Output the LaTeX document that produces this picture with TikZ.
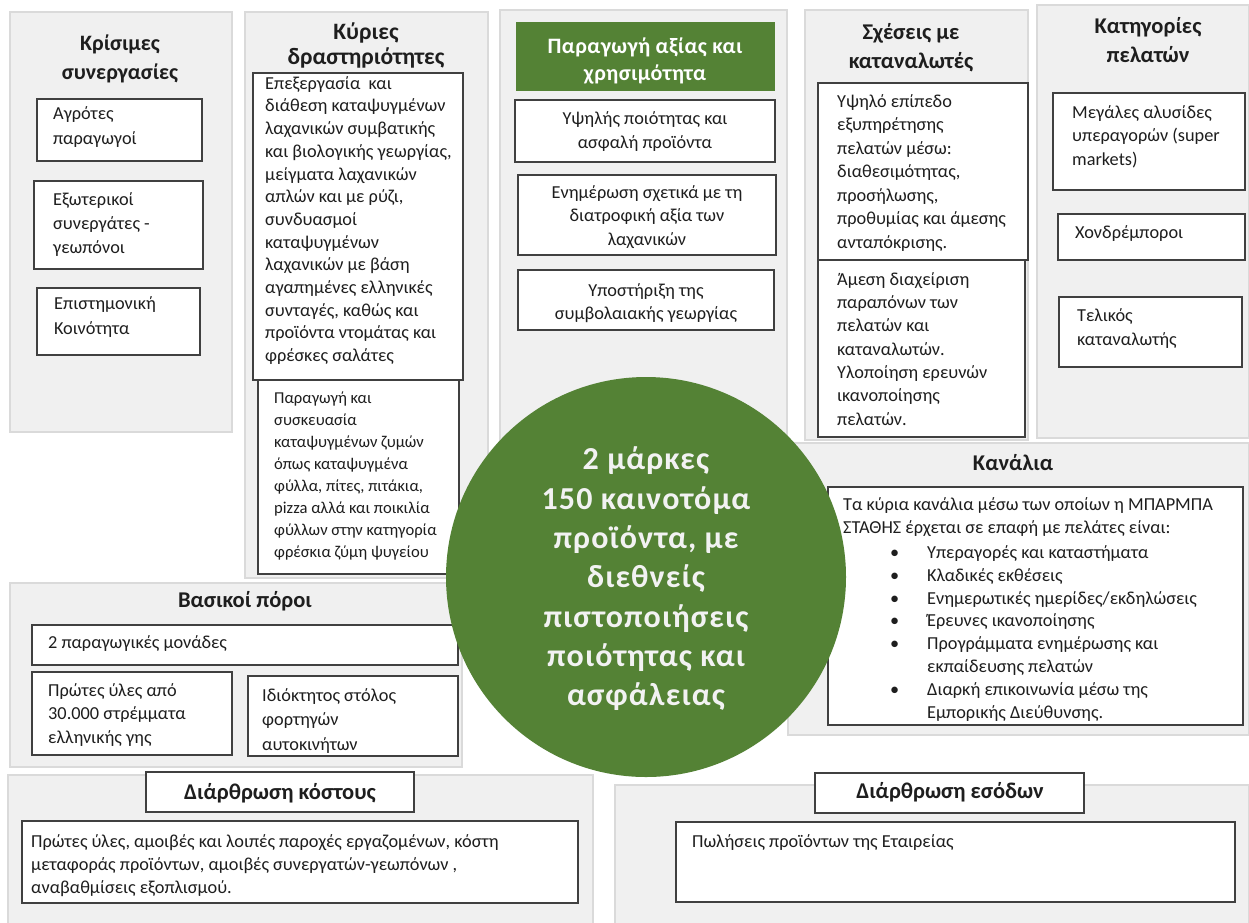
\documentclass[tikz,border=0pt]{standalone}
\usepackage{fontspec}
\setmainfont{Carlito}
\usetikzlibrary{fit}
\definecolor{panelfill}{HTML}{F0F0F0}
\definecolor{paneldraw}{HTML}{DADADA}
\definecolor{boxdraw}{HTML}{404040}
\definecolor{bmcgreen}{HTML}{548235}
\definecolor{circtext}{HTML}{F2F2F2}
\definecolor{bodytext}{HTML}{1E1E1E}
\newcommand\bsz{18.3}
\newcommand\bmcpanel[5]{\node[panelsty, fit={(#2,#3) (#4,#5)}] (#1) {};}
\newcommand\bmcbox[5]{\node[boxsty, fit={(#2,#3) (#4,#5)}] (#1) {};}
% left aligned text: name, x, first baseline, baselineskip, text
\newcommand\txl[5]{\node[txt, align=left, anchor=north west, yshift={0.7*#4pt}, font=\fontsize{\bsz}{#4}\selectfont] (#1) at (#2,#3) {\strut #5};}
\newcommand\txc[5]{\node[txt, align=center, anchor=north, yshift={0.7*#4pt}, font=\fontsize{\bsz}{#4}\selectfont] (#1) at (#2,#3) {\strut #5};}
% bold title: name, x, first baseline, size, baselineskip, text
\newcommand\ttl[6]{\node[txt, align=center, anchor=north, yshift={0.7*#5pt}, font=\fontsize{#4}{#5}\selectfont\bfseries] (#1) at (#2,#3) {\strut #6};}
\newcommand\bul{\makebox[37pt][l]{•}}
\newcommand\nobul{\makebox[37pt][l]{}}
\begin{document}
\begin{tikzpicture}[x=1pt,y=-1pt,
  panelsty/.style={draw=paneldraw, fill=panelfill, line width=1.4pt, inner sep=0pt, rectangle},
  boxsty/.style={draw=boxdraw, fill=white, line width=1.1pt, inner sep=0pt, rectangle},
  titlebox/.style={boxsty, line width=1.2pt},
  txt/.style={inner sep=0pt, text=bodytext},
]
\fill[white] (0,0) rectangle (1249,922);
\useasboundingbox (0,0) rectangle (1249,922);

% ---------- panels ----------
\bmcpanel{pKS}{10}{12}{232}{432}
\bmcpanel{pKD}{245}{12}{488}{578}
\bmcpanel{pVP}{500}{10}{787}{440}
\bmcpanel{pSX}{805}{10}{1028}{440}
\bmcpanel{pKP}{1037}{5}{1249}{438}
\bmcpanel{pBP}{10}{583}{462}{767}
\bmcpanel{pKN}{788}{443}{1249}{735}
\bmcpanel{pDK}{8}{775}{593}{930}
\bmcpanel{pDE}{615}{785}{1249}{930}

% ---------- Κρίσιμες συνεργασίες ----------
\ttl{tKS}{120}{50}{22}{29}{Κρίσιμες\\συνεργασίες}
\bmcbox{bKS1}{37}{99}{202}{161}
\bmcbox{bKS2}{34}{181}{203}{269}
\bmcbox{bKS3}{37}{288}{200}{355}
\txl{xKS1}{53}{119}{25}{Αγρότες\\παραγωγοί}
\txl{xKS2}{53}{205}{24}{Εξωτερικοί\\συνεργάτες -\\γεωπόνοι}
\txl{xKS3}{54}{309}{25}{Επιστημονική\\Κοινότητα}

% ---------- Κύριες δραστηριότητες ----------
\ttl{tKD}{366}{39}{23.5}{25}{Κύριες\\δραστηριότητες}
\bmcbox{bKD2}{258}{380}{459}{574}
\bmcbox{bKD1}{253}{73}{463}{380}
\txl{xKD1}{265}{89}{22.7}{Επεξεργασία\ \ και\\διάθεση καταψυγμένων\\λαχανικών συμβατικής\\και βιολογικής γεωργίας,\\μείγματα λαχανικών\\απλών και με ρύζι,\\συνδυασμοί\\καταψυγμένων\\λαχανικών με βάση\\αγαπημένες ελληνικές\\συνταγές, καθώς και\\προϊόντα ντομάτας και\\φρέσκες σαλάτες}
{\renewcommand\bsz{16.6}%
\txl{xKD2}{274}{403}{22}{Παραγωγή και\\συσκευασία\\καταψυγμένων ζυμών\\όπως καταψυγμένα\\φύλλα, πίτες, πιτάκια,\\pizza αλλά και ποικιλία\\φύλλων στην κατηγορία\\φρέσκια ζύμη ψυγείου}}

% ---------- Παραγωγή αξίας ----------
\node[fill=bmcgreen, inner sep=0pt, fit={(516,22) (775,91)}] (hVP) {};
\node[txt, text=white, align=center, anchor=north, yshift={0.7*27pt}, font=\fontsize{22}{27}\selectfont\bfseries\addfontfeatures{LetterSpace=2}] (tVP) at (645,53) {\strut Παραγωγή αξίας και\\χρησιμότητα};
\bmcbox{bVP1}{515}{100}{775}{162}
\bmcbox{bVP2}{518}{175}{776}{255}
\bmcbox{bVP3}{518}{270}{774}{330}
\txc{xVP1}{645}{124}{24}{Υψηλής ποιότητας και\\ασφαλή προϊόντα}
\txc{xVP2}{647}{198}{23.7}{Ενημέρωση σχετικά με τη\\διατροφική αξία των\\λαχανικών}
\txc{xVP3}{646}{296}{23}{Υποστήριξη της\\συμβολαιακής γεωργίας}

% ---------- Σχέσεις με καταναλωτές ----------
\ttl{tSX}{911}{39}{22.5}{29}{Σχέσεις με\\καταναλωτές}
\bmcbox{bSX1}{818}{83}{1028}{260}
\bmcbox{bSX2}{818}{260}{1025}{437}
\txl{xSX1}{837}{107}{23.5}{Υψηλό επίπεδο\\εξυπηρέτησης\\πελατών μέσω:\\διαθεσιμότητας,\\προσήλωσης,\\προθυμίας και άμεσης\\ανταπόκρισης.}
\txl{xSX2}{837}{285}{23.3}{Άμεση διαχείριση\\παραπόνων των\\πελατών και\\καταναλωτών.\\Υλοποίηση ερευνών\\ικανοποίησης\\πελατών.}

% ---------- Κατηγορίες πελατών ----------
\ttl{tKP}{1148}{33}{22.5}{29}{Κατηγορίες\\πελατών}
\bmcbox{bKP1}{1053}{93}{1245}{190}
\bmcbox{bKP2}{1058}{214}{1245}{260}
\bmcbox{bKP3}{1059}{297}{1242}{367}
\txl{xKP1}{1072}{118}{23.5}{Μεγάλες αλυσίδες\\υπεραγορών (super\\markets)}
\txl{xKP2}{1075}{238}{24}{Χονδρέμποροι}
\txl{xKP3}{1077}{321}{24}{Τελικός\\καταναλωτής}

% ---------- Βασικοί πόροι ----------
\ttl{tBP}{245}{607}{22.5}{25}{Βασικοί πόροι}
\bmcbox{bBP1}{32}{625}{458}{665}
\bmcbox{bBP2}{32}{672}{232}{755}
\bmcbox{bBP3}{248}{676}{458}{756}
\txl{xBP1}{48}{648}{24}{2 παραγωγικές μονάδες}
\txl{xBP2}{48}{696}{23.5}{Πρώτες ύλες από\\30.000 στρέμματα\\ελληνικής γης}
\txl{xBP3}{262}{701}{24.5}{Ιδιόκτητος στόλος\\φορτηγών\\αυτοκινήτων}

% ---------- Κανάλια ----------
\ttl{tKN}{1013}{470}{22.5}{25}{Κανάλια}
\bmcbox{bKN}{828}{487}{1243}{725}

% ---------- Διάρθρωση κόστους ----------
\bmcbox{bDK}{22}{821}{578}{903}
\node[titlebox, fit={(146,772) (414,812)}] (hDK) {};
\ttl{tDK}{280}{799}{22.5}{25}{Διάρθρωση κόστους}
\txl{xDK}{31}{847}{23.3}{Πρώτες ύλες, αμοιβές και λοιπές παροχές εργαζομένων, κόστη\\μεταφοράς προϊόντων, αμοιβές συνεργατών-γεωπόνων ,\\αναβαθμίσεις εξοπλισμού.}

% ---------- Διάρθρωση εσόδων ----------
\bmcbox{bDE}{676}{822}{1235}{902}
\node[titlebox, fit={(815,773) (1084,813)}] (hDE) {};
\ttl{tDE}{950}{798}{22.5}{25}{Διάρθρωση εσόδων}
\txl{xDE}{692}{847}{24}{Πωλήσεις προϊόντων της Εταιρείας}

% ---------- central circle ----------
\node[circle, fill=bmcgreen, minimum size=400pt, inner sep=0pt] (cVP) at (646,577) {};
\node[txt, text=circtext, align=center, yshift=-3pt, font=\fontsize{32}{39.3}\selectfont\bfseries\addfontfeatures{LetterSpace=3.5}] (xC) at (cVP.center) {\strut 2 μάρκες\\150 καινοτόμα\\προϊόντα, με\\διεθνείς\\πιστοποιήσεις\\ποιότητας και\\ασφάλειας\strut};

% ---------- Κανάλια text (over circle edge) ----------
\txl{xKN1}{843}{510}{23}{Τα κύρια κανάλια μέσω των οποίων η ΜΠΑΡΜΠΑ\\ΣΤΑΘΗΣ έρχεται σε επαφή με πελάτες είναι:}
\txl{xKN2}{890}{558}{22.9}{\bul Υπεραγορές και καταστήματα\\\bul Κλαδικές εκθέσεις\\\bul Ενημερωτικές ημερίδες/εκδηλώσεις\\\bul Έρευνες ικανοποίησης\\\bul Προγράμματα ενημέρωσης και\\\nobul εκπαίδευσης πελατών\\\bul Διαρκή επικοινωνία μέσω της\\\nobul Εμπορικής Διεύθυνσης.}
\end{tikzpicture}
\end{document}
